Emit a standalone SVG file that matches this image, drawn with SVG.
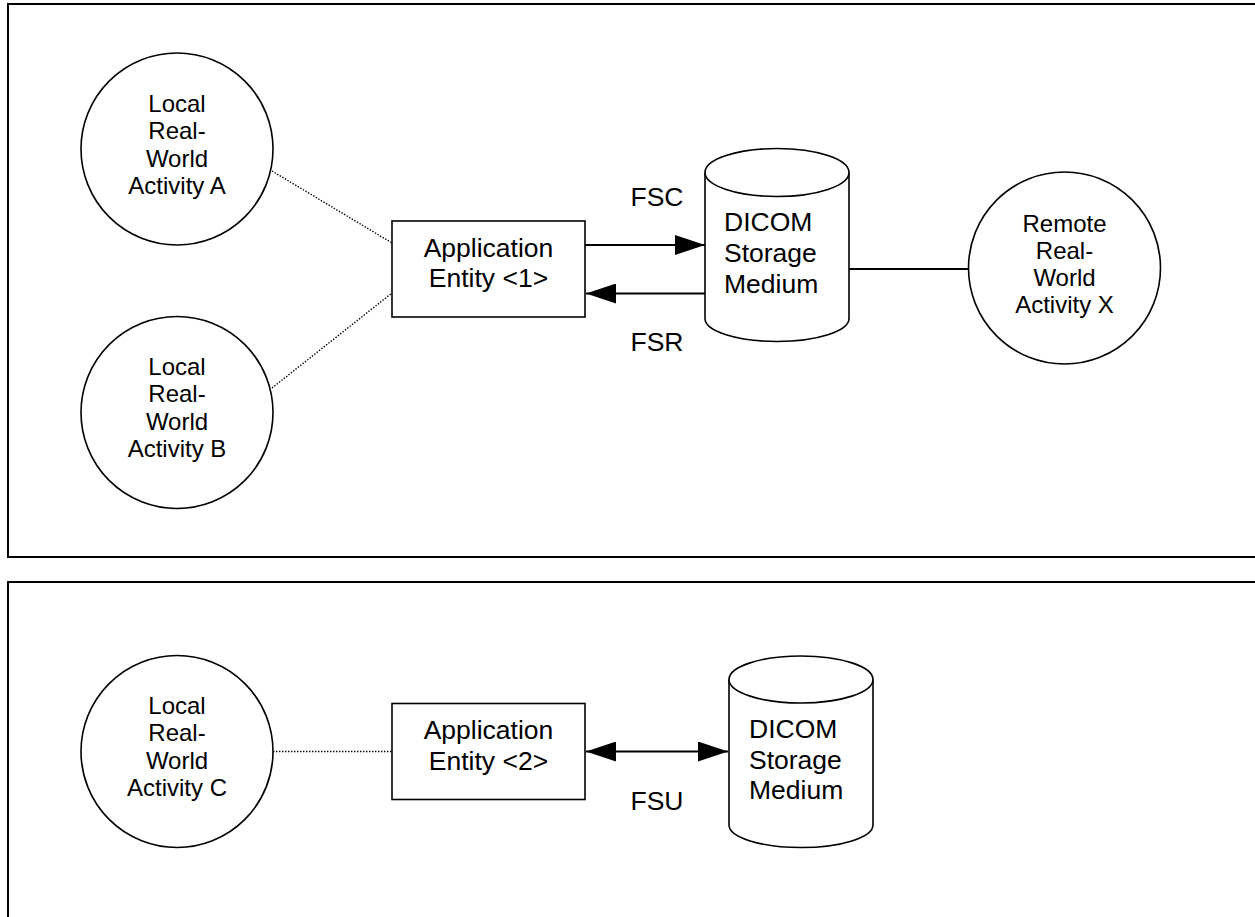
<svg xmlns="http://www.w3.org/2000/svg" width="1255" height="917" viewBox="0 0 1255 917">
<defs>
<style>
.frame{fill:none;stroke:#000;stroke-width:2}
.node{fill:#fff;stroke:#000;stroke-width:1.6}
.ct{font-family:"Liberation Sans",Arial,sans-serif;font-size:24px;fill:#000;text-anchor:middle}
.bt{font-family:"Liberation Sans",Arial,sans-serif;font-size:26.5px;fill:#000}
.mid{text-anchor:middle}
.solid{fill:none;stroke:#000;stroke-width:1.8}
.dot{fill:none;stroke:#000;stroke-width:1.4;stroke-dasharray:1.4 1.6}
</style>
<marker id="ah" markerUnits="userSpaceOnUse" markerWidth="30" markerHeight="20" refX="30" refY="10" orient="auto" viewBox="0 0 30 20">
<path d="M0,0 L30,10 L0,20 Z" fill="#000"/>
</marker>
<marker id="ahs" markerUnits="userSpaceOnUse" markerWidth="30" markerHeight="20" refX="0" refY="10" orient="auto" viewBox="0 0 30 20">
<path d="M30,0 L0,10 L30,20 Z" fill="#000"/>
</marker>
</defs>
<rect width="1255" height="917" fill="#fff"/>
<g id="frames">
<path class="frame" d="M1260,4 H8 V557 H1260"/>
<path class="frame" d="M1260,582 H8 V925"/>
</g>
<g id="connectors">
<line class="dot" x1="272" y1="171" x2="392" y2="243"/>
<line class="dot" x1="272" y1="388" x2="392" y2="293"/>
<line class="dot" x1="273" y1="751.5" x2="392" y2="751.5"/>
<line class="solid" x1="585" y1="245" x2="705" y2="245" marker-end="url(#ah)"/>
<line class="solid" x1="705" y1="293.5" x2="586" y2="293.5" marker-end="url(#ah)"/>
<line class="solid" x1="849" y1="269" x2="968" y2="269"/>
<line class="solid" x1="586" y1="751.5" x2="728" y2="751.5" marker-start="url(#ahs)" marker-end="url(#ah)"/>
<text class="bt" x="630.5" y="205.5">FSC</text>
<text class="bt" x="630.5" y="350.5">FSR</text>
<text class="bt" x="630.5" y="810">FSU</text>
</g>
<g id="activityA">
<circle class="node" cx="177" cy="149" r="96"/>
<text class="ct" x="177" y="112">Local</text>
<text class="ct" x="177" y="139.3">Real-</text>
<text class="ct" x="177" y="166.6">World</text>
<text class="ct" x="177" y="193.9">Activity A</text>
</g>
<g id="activityB">
<circle class="node" cx="177" cy="412.5" r="96"/>
<text class="ct" x="177" y="375">Local</text>
<text class="ct" x="177" y="402.3">Real-</text>
<text class="ct" x="177" y="429.6">World</text>
<text class="ct" x="177" y="456.9">Activity B</text>
</g>
<g id="ae1">
<rect class="node" x="392" y="221" width="193" height="96"/>
<text class="bt mid" x="488.5" y="256.5">Application</text>
<text class="bt mid" x="488.5" y="286.5">Entity &lt;1&gt;</text>
</g>
<g id="storage1">
<path class="node" d="M705,172.5 V318.5 A72,23 0 0 0 849,318.5 V172.5"/>
<ellipse class="node" cx="777" cy="172.5" rx="72" ry="24"/>
<text class="bt" x="724" y="230.5">DICOM</text>
<text class="bt" x="724" y="261.5">Storage</text>
<text class="bt" x="724" y="292.5">Medium</text>
</g>
<g id="activityX">
<circle class="node" cx="1064.5" cy="268" r="96"/>
<text class="ct" x="1064.5" y="231.5">Remote</text>
<text class="ct" x="1064.5" y="258.8">Real-</text>
<text class="ct" x="1064.5" y="286.1">World</text>
<text class="ct" x="1064.5" y="313.4">Activity X</text>
</g>
<g id="activityC">
<circle class="node" cx="177" cy="751.5" r="96"/>
<text class="ct" x="177" y="714">Local</text>
<text class="ct" x="177" y="741.3">Real-</text>
<text class="ct" x="177" y="768.6">World</text>
<text class="ct" x="177" y="795.9">Activity C</text>
</g>
<g id="ae2">
<rect class="node" x="392" y="703.5" width="193" height="96"/>
<text class="bt mid" x="488.5" y="738.5">Application</text>
<text class="bt mid" x="488.5" y="769.5">Entity &lt;2&gt;</text>
</g>
<g id="storage2">
<path class="node" d="M729,679.5 V825 A72,22.5 0 0 0 873,825 V679.5"/>
<ellipse class="node" cx="801" cy="679.5" rx="72" ry="23.5"/>
<text class="bt" x="749" y="737.5">DICOM</text>
<text class="bt" x="749" y="768.5">Storage</text>
<text class="bt" x="749" y="798.5">Medium</text>
</g>
</svg>
